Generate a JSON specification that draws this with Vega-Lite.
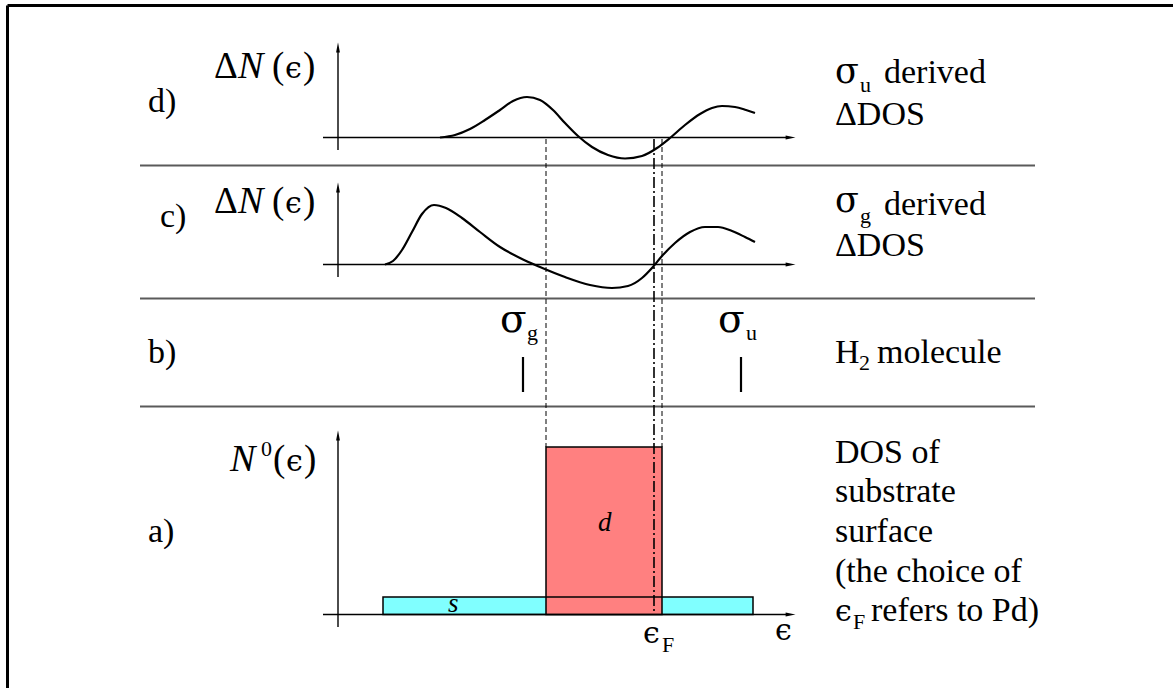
{
  "$schema": "https://vega.github.io/schema/vega-lite/v6.json",
  "width": 1173,
  "height": 688,
  "autosize": {"type": "none"},
  "padding": 0,
  "background": "white",
  "config": {"view": {"stroke": null}},
  "datasets": {
    "frame": [
      {"x": 7.5, "x2": 1173, "y": 5.5, "y2": 5.5},
      {"x": 7.5, "x2": 7.5, "y": 5.5, "y2": 688}
    ],
    "seps": [
      {"x": 140, "x2": 1035, "y": 165.5},
      {"x": 140, "x2": 1035, "y": 298.5},
      {"x": 140, "x2": 1035, "y": 406.5}
    ],
    "axes": [
      {"x": 338, "x2": 338, "y": 150, "y2": 48},
      {"x": 323, "x2": 788, "y": 137.5, "y2": 137.5},
      {"x": 338, "x2": 338, "y": 277, "y2": 188},
      {"x": 323, "x2": 788, "y": 264.5, "y2": 264.5},
      {"x": 338, "x2": 338, "y": 627, "y2": 436},
      {"x": 323, "x2": 788, "y": 614.5, "y2": 614.5}
    ],
    "arrowsUp": [
      {"x": 338, "y": 48},
      {"x": 338, "y": 188},
      {"x": 338, "y": 436}
    ],
    "arrowsRight": [
      {"x": 790, "y": 137.5},
      {"x": 790, "y": 264.5},
      {"x": 790, "y": 614.5}
    ],
    "bands": [
      {"band": "s", "x": 383, "x2": 753, "y": 597, "y2": 614.5},
      {"band": "d", "x": 546, "x2": 662, "y": 447, "y2": 614.5}
    ],
    "curves": [
      {"c": "d", "x": 440, "y": 137.5},
      {"c": "d", "x": 455, "y": 135},
      {"c": "d", "x": 470, "y": 129},
      {"c": "d", "x": 485, "y": 120},
      {"c": "d", "x": 500, "y": 110},
      {"c": "d", "x": 513, "y": 101},
      {"c": "d", "x": 527, "y": 97},
      {"c": "d", "x": 540, "y": 100},
      {"c": "d", "x": 553, "y": 110},
      {"c": "d", "x": 565, "y": 123},
      {"c": "d", "x": 578, "y": 136},
      {"c": "d", "x": 592, "y": 147},
      {"c": "d", "x": 608, "y": 155},
      {"c": "d", "x": 625, "y": 158.5},
      {"c": "d", "x": 642, "y": 156},
      {"c": "d", "x": 657, "y": 148},
      {"c": "d", "x": 670, "y": 138},
      {"c": "d", "x": 685, "y": 125},
      {"c": "d", "x": 700, "y": 114},
      {"c": "d", "x": 712, "y": 108},
      {"c": "d", "x": 722, "y": 106},
      {"c": "d", "x": 735, "y": 107},
      {"c": "d", "x": 746, "y": 110},
      {"c": "d", "x": 755, "y": 113},
      {"c": "c", "x": 385, "y": 264.5},
      {"c": "c", "x": 393, "y": 261},
      {"c": "c", "x": 402, "y": 250},
      {"c": "c", "x": 412, "y": 232},
      {"c": "c", "x": 422, "y": 214},
      {"c": "c", "x": 434, "y": 205},
      {"c": "c", "x": 446, "y": 208},
      {"c": "c", "x": 462, "y": 218},
      {"c": "c", "x": 480, "y": 232},
      {"c": "c", "x": 500, "y": 247},
      {"c": "c", "x": 520, "y": 258},
      {"c": "c", "x": 540, "y": 267},
      {"c": "c", "x": 565, "y": 277},
      {"c": "c", "x": 590, "y": 285},
      {"c": "c", "x": 612, "y": 288},
      {"c": "c", "x": 628, "y": 286},
      {"c": "c", "x": 642, "y": 278},
      {"c": "c", "x": 652, "y": 268},
      {"c": "c", "x": 662, "y": 256},
      {"c": "c", "x": 675, "y": 243},
      {"c": "c", "x": 690, "y": 232},
      {"c": "c", "x": 705, "y": 227},
      {"c": "c", "x": 718, "y": 227},
      {"c": "c", "x": 732, "y": 231},
      {"c": "c", "x": 745, "y": 237},
      {"c": "c", "x": 755, "y": 242}
    ],
    "dashed": [
      {"x": 546, "y": 139, "y2": 447},
      {"x": 662, "y": 139, "y2": 447}
    ],
    "dashdot": [
      {"x": 654, "y": 139, "y2": 614}
    ],
    "sTop": [
      {"x": 546, "x2": 662, "y": 597}
    ],
    "levels": [
      {"x": 523, "y": 357, "y2": 392},
      {"x": 741, "y": 357, "y2": 392}
    ],
    "texts": [
      {"k": "main", "t": "d)", "x": 148, "y": 112},
      {"k": "main", "t": "c)", "x": 160, "y": 227},
      {"k": "main", "t": "b)", "x": 148, "y": 363},
      {"k": "main", "t": "a)", "x": 148, "y": 542},
      {"k": "main", "t": "derived", "x": 884, "y": 83},
      {"k": "main", "t": "ΔDOS", "x": 835, "y": 125},
      {"k": "main", "t": "derived", "x": 884, "y": 215},
      {"k": "main", "t": "ΔDOS", "x": 835, "y": 256},
      {"k": "main", "t": "H", "x": 835, "y": 363},
      {"k": "main", "t": "molecule", "x": 877, "y": 363},
      {"k": "main", "t": "DOS of", "x": 835, "y": 463},
      {"k": "main", "t": "substrate", "x": 835, "y": 502},
      {"k": "main", "t": "surface", "x": 835, "y": 542},
      {"k": "main", "t": "(the choice of", "x": 835, "y": 582},
      {"k": "main", "t": "refers to Pd)", "x": 871, "y": 621},
      {"k": "math", "t": "Δ", "x": 214, "y": 78},
      {"k": "math", "t": "(", "x": 272, "y": 78},
      {"k": "math", "t": ")", "x": 303, "y": 78},
      {"k": "math", "t": "Δ", "x": 214, "y": 213},
      {"k": "math", "t": "(", "x": 272, "y": 213},
      {"k": "math", "t": ")", "x": 303, "y": 213},
      {"k": "math", "t": "(", "x": 273, "y": 471},
      {"k": "math", "t": ")", "x": 304, "y": 471},
      {"k": "eps", "t": "ϵ", "x": 285, "y": 78},
      {"k": "eps", "t": "ϵ", "x": 285, "y": 213},
      {"k": "eps", "t": "ϵ", "x": 286, "y": 471},
      {"k": "eps", "t": "ϵ", "x": 643, "y": 643},
      {"k": "eps", "t": "ϵ", "x": 775, "y": 640},
      {"k": "eps", "t": "ϵ", "x": 835, "y": 621},
      {"k": "ital", "t": "N", "x": 238, "y": 78},
      {"k": "ital", "t": "N", "x": 238, "y": 213},
      {"k": "ital", "t": "N", "x": 230, "y": 471},
      {"k": "smallital", "t": "s", "x": 448, "y": 612},
      {"k": "smallital", "t": "d", "x": 598, "y": 531},
      {"k": "sub", "t": "u", "x": 860, "y": 92},
      {"k": "sub", "t": "g", "x": 860, "y": 223},
      {"k": "sub", "t": "g", "x": 527, "y": 340},
      {"k": "sub", "t": "u", "x": 746, "y": 340},
      {"k": "sub", "t": "2", "x": 859, "y": 370},
      {"k": "sub", "t": "F", "x": 662, "y": 652},
      {"k": "sub", "t": "F", "x": 853, "y": 629},
      {"k": "sub", "t": "0", "x": 261, "y": 456},
      {"k": "sigma", "t": "σ", "x": 835, "y": 83},
      {"k": "sigma", "t": "σ", "x": 835, "y": 212},
      {"k": "sigmab", "t": "σ", "x": 500, "y": 332},
      {"k": "sigmab", "t": "σ", "x": 718, "y": 332}
    ]
  },
  "encoding": {
    "x": {"type": "quantitative", "scale": {"domain": [0, 1173], "nice": false, "zero": false}, "axis": null},
    "y": {"type": "quantitative", "scale": {"domain": [0, 688], "nice": false, "zero": false, "reverse": true}, "axis": null}
  },
  "layer": [
    {
      "data": {"name": "frame"},
      "mark": {"type": "rule", "color": "black", "strokeWidth": 3},
      "encoding": {"x": {"field": "x"}, "x2": {"field": "x2"}, "y": {"field": "y"}, "y2": {"field": "y2"}}
    },
    {
      "data": {"name": "seps"},
      "mark": {"type": "rule", "color": "#5a5a5a", "strokeWidth": 2},
      "encoding": {"x": {"field": "x"}, "x2": {"field": "x2"}, "y": {"field": "y"}}
    },
    {
      "data": {"name": "bands"},
      "mark": {"type": "rect", "stroke": "black", "strokeWidth": 1.5},
      "encoding": {
        "x": {"field": "x"}, "x2": {"field": "x2"}, "y": {"field": "y"}, "y2": {"field": "y2"},
        "color": {"field": "band", "type": "nominal", "scale": {"domain": ["s", "d"], "range": ["#80ffff", "#ff8080"]}, "legend": null},
        "order": {"field": "band", "sort": "descending"}
      }
    },
    {
      "data": {"name": "sTop"},
      "mark": {"type": "rule", "color": "black", "strokeWidth": 1.5},
      "encoding": {"x": {"field": "x"}, "x2": {"field": "x2"}, "y": {"field": "y"}}
    },
    {
      "data": {"name": "axes"},
      "mark": {"type": "rule", "color": "black", "strokeWidth": 1.4},
      "encoding": {"x": {"field": "x"}, "x2": {"field": "x2"}, "y": {"field": "y"}, "y2": {"field": "y2"}}
    },
    {
      "data": {"name": "arrowsUp"},
      "mark": {"type": "point", "shape": "M0,-1L0.35,0.8L-0.35,0.8Z", "filled": true, "color": "black", "opacity": 1, "size": 120},
      "encoding": {"x": {"field": "x"}, "y": {"field": "y"}}
    },
    {
      "data": {"name": "arrowsRight"},
      "mark": {"type": "point", "shape": "M1,0L-0.8,0.35L-0.8,-0.35Z", "filled": true, "color": "black", "opacity": 1, "size": 120},
      "encoding": {"x": {"field": "x"}, "y": {"field": "y"}}
    },
    {
      "data": {"name": "dashed"},
      "mark": {"type": "rule", "color": "black", "strokeWidth": 1, "strokeDash": [5, 3]},
      "encoding": {"x": {"field": "x"}, "y": {"field": "y"}, "y2": {"field": "y2"}}
    },
    {
      "data": {"name": "dashdot"},
      "mark": {"type": "rule", "color": "black", "strokeWidth": 1.6, "strokeDash": [11, 3, 2, 3]},
      "encoding": {"x": {"field": "x"}, "y": {"field": "y"}, "y2": {"field": "y2"}}
    },
    {
      "data": {"name": "curves"},
      "mark": {"type": "line", "color": "black", "strokeWidth": 2.2, "interpolate": "monotone"},
      "encoding": {"x": {"field": "x"}, "y": {"field": "y"}, "detail": {"field": "c", "type": "nominal"}}
    },
    {
      "data": {"name": "levels"},
      "mark": {"type": "rule", "color": "black", "strokeWidth": 2.2},
      "encoding": {"x": {"field": "x"}, "y": {"field": "y"}, "y2": {"field": "y2"}}
    },
    {
      "data": {"name": "texts"},
      "transform": [{"filter": "datum.k === 'main'"}],
      "mark": {"type": "text", "font": "Liberation Serif", "fontSize": 34, "align": "left", "baseline": "alphabetic", "color": "black"},
      "encoding": {"x": {"field": "x"}, "y": {"field": "y"}, "text": {"field": "t"}}
    },
    {
      "data": {"name": "texts"},
      "transform": [{"filter": "datum.k === 'math'"}],
      "mark": {"type": "text", "font": "Liberation Serif", "fontSize": 37, "align": "left", "baseline": "alphabetic", "color": "black"},
      "encoding": {"x": {"field": "x"}, "y": {"field": "y"}, "text": {"field": "t"}}
    },
    {
      "data": {"name": "texts"},
      "transform": [{"filter": "datum.k === 'eps'"}],
      "mark": {"type": "text", "font": "DejaVu Serif", "fontSize": 30, "align": "left", "baseline": "alphabetic", "color": "black"},
      "encoding": {"x": {"field": "x"}, "y": {"field": "y"}, "text": {"field": "t"}}
    },
    {
      "data": {"name": "texts"},
      "transform": [{"filter": "datum.k === 'ital'"}],
      "mark": {"type": "text", "font": "Liberation Serif", "fontStyle": "italic", "fontSize": 38, "align": "left", "baseline": "alphabetic", "color": "black"},
      "encoding": {"x": {"field": "x"}, "y": {"field": "y"}, "text": {"field": "t"}}
    },
    {
      "data": {"name": "texts"},
      "transform": [{"filter": "datum.k === 'smallital'"}],
      "mark": {"type": "text", "font": "Liberation Serif", "fontStyle": "italic", "fontSize": 27, "align": "left", "baseline": "alphabetic", "color": "black"},
      "encoding": {"x": {"field": "x"}, "y": {"field": "y"}, "text": {"field": "t"}}
    },
    {
      "data": {"name": "texts"},
      "transform": [{"filter": "datum.k === 'sub'"}],
      "mark": {"type": "text", "font": "Liberation Serif", "fontSize": 22, "align": "left", "baseline": "alphabetic", "color": "black"},
      "encoding": {"x": {"field": "x"}, "y": {"field": "y"}, "text": {"field": "t"}}
    },
    {
      "data": {"name": "texts"},
      "transform": [{"filter": "datum.k === 'sigma'"}],
      "mark": {"type": "text", "font": "DejaVu Serif", "fontSize": 35, "align": "left", "baseline": "alphabetic", "color": "black"},
      "encoding": {"x": {"field": "x"}, "y": {"field": "y"}, "text": {"field": "t"}}
    },
    {
      "data": {"name": "texts"},
      "transform": [{"filter": "datum.k === 'sigmab'"}],
      "mark": {"type": "text", "font": "DejaVu Serif", "fontSize": 39, "align": "left", "baseline": "alphabetic", "color": "black"},
      "encoding": {"x": {"field": "x"}, "y": {"field": "y"}, "text": {"field": "t"}}
    }
  ]
}
